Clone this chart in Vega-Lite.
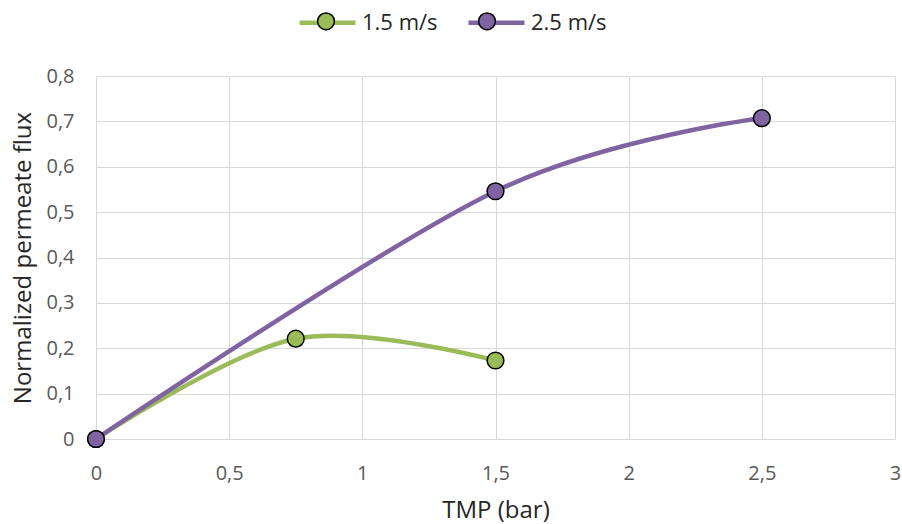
{
  "$schema": "https://vega.github.io/schema/vega-lite/v6.json",
  "width": 799,
  "height": 363,
  "autosize": {"type": "none"},
  "padding": {"left": 96, "top": 76, "right": 7, "bottom": 85},
  "background": "white",
  "config": {"font": "Open Sans", "view": {"stroke": null}},
  "data": {
    "values": [
      {"TMP": 0, "flux": 0, "series": "1.5 m/s", "s2": "g"},
      {"TMP": 0.75, "flux": 0.221, "series": "1.5 m/s", "s2": "g"},
      {"TMP": 1.5, "flux": 0.173, "series": "1.5 m/s", "s2": "g"},
      {"TMP": 0, "flux": 0, "series": "2.5 m/s", "s2": "p"},
      {"TMP": 1.5, "flux": 0.546, "series": "2.5 m/s", "s2": "p"},
      {"TMP": 2.5, "flux": 0.707, "series": "2.5 m/s", "s2": "p"}
    ]
  },
  "encoding": {
    "x": {
      "field": "TMP",
      "type": "quantitative",
      "scale": {"domain": [0, 3], "nice": false, "zero": false},
      "axis": {
        "values": [0, 0.5, 1, 1.5, 2, 2.5, 3],
        "labelExpr": "replace(format(datum.value, '~g'), '.', ',')",
        "labelFlush": false,
        "title": "TMP (bar)",
        "grid": true,
        "gridColor": "#D9D9D9",
        "gridWidth": 1,
        "domain": false,
        "ticks": false,
        "labelPadding": 24,
        "labelFontSize": 20,
        "labelColor": "#595959",
        "titleFontSize": 24,
        "titleFontWeight": "normal",
        "titleColor": "#262626",
        "titlePadding": 15
      }
    },
    "y": {
      "field": "flux",
      "type": "quantitative",
      "scale": {"domain": [0, 0.8], "nice": false},
      "axis": {
        "values": [0, 0.1, 0.2, 0.3, 0.4, 0.5, 0.6, 0.7, 0.8],
        "labelExpr": "replace(format(datum.value, '~g'), '.', ',')",
        "labelFlush": false,
        "title": "Normalized permeate flux",
        "grid": true,
        "gridColor": "#D9D9D9",
        "gridWidth": 1,
        "domain": false,
        "ticks": false,
        "labelPadding": 22,
        "labelFontSize": 20,
        "labelColor": "#595959",
        "titleFontSize": 24,
        "titleFontWeight": "normal",
        "titleColor": "#262626",
        "titlePadding": 10
      }
    }
  },
  "layer": [
    {
      "mark": {"type": "line", "interpolate": "cardinal", "strokeWidth": 4.5, "strokeCap": "round"},
      "encoding": {
        "stroke": {
          "field": "series",
          "type": "nominal",
          "scale": {"domain": ["1.5 m/s", "2.5 m/s"], "range": ["#9BBB59", "#8064A2"]},
          "legend": {
            "orient": "none",
            "legendX": 201,
            "legendY": -84,
            "direction": "horizontal",
            "title": null,
            "symbolType": "stroke",
            "symbolSize": 3136,
            "symbolStrokeWidth": 4.5,
            "labelFontSize": 22,
            "labelColor": "#262626",
            "labelOffset": 4,
            "columnPadding": 21
          }
        }
      }
    },
    {
      "mark": {"type": "point", "filled": true, "size": 280, "stroke": "black", "strokeWidth": 1.5, "opacity": 1},
      "encoding": {
        "fill": {
          "field": "s2",
          "type": "nominal",
          "scale": {"domain": ["g", "p"], "range": ["#9BBB59", "#8064A2"]},
          "legend": {
            "orient": "none",
            "legendX": 201,
            "legendY": -84,
            "direction": "horizontal",
            "title": null,
            "symbolType": "M-1,0 M1,0 M0.3,0 A0.3,0.3 0 1,1 -0.3,0 A0.3,0.3 0 1,1 0.3,0 Z",
            "symbolSize": 3136,
            "symbolStrokeColor": "black",
            "symbolStrokeWidth": 1.5,
            "symbolOpacity": 1,
            "labelExpr": "''",
            "labelFontSize": 22,
            "labelOffset": 4,
            "columnPadding": 97
          }
        }
      }
    }
  ]
}
